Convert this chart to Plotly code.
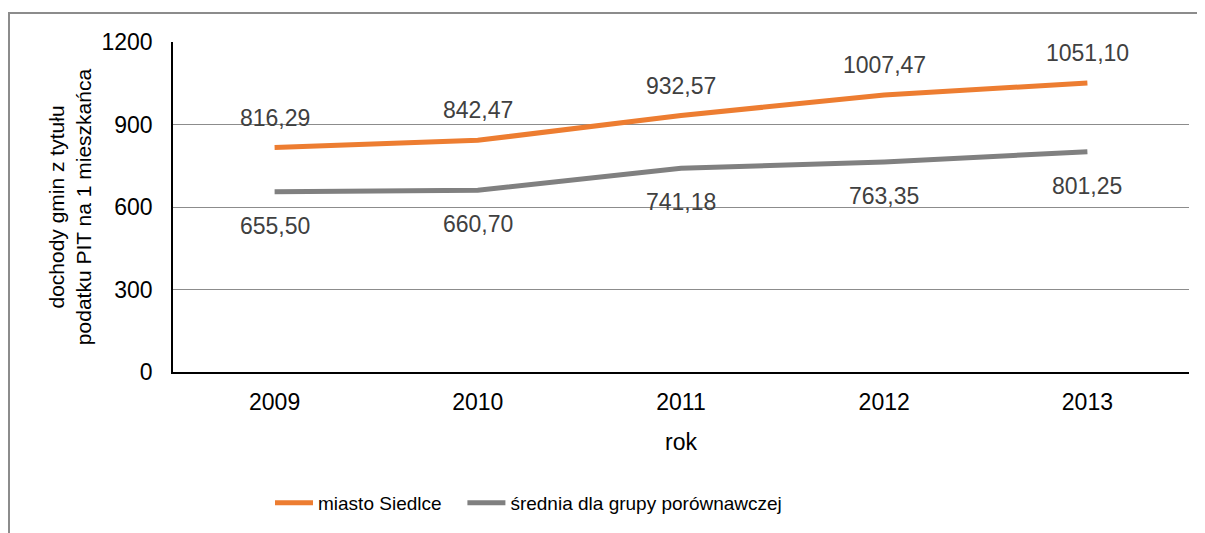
import plotly.graph_objects as go

years = ["2009", "2010", "2011", "2012", "2013"]
siedlce = [816.29, 842.47, 932.57, 1007.47, 1051.10]
grupa = [655.50, 660.70, 741.18, 763.35, 801.25]
siedlce_labels = ["816,29", "842,47", "932,57", "1007,47", "1051,10"]
grupa_labels = ["655,50", "660,70", "741,18", "763,35", "801,25"]
y_ticks = [0, 300, 600, 900, 1200]

OFF = 8  # page body margin
W, H = 1205 - OFF, 533 - OFF
L, R, T, B = 173 - OFF, 16, 42 - OFF, 533 - 373
pw = W - L - R
ph = H - T - B

def px_x(x):
    return (x - OFF - L) / pw

def px_y(y):
    return (H - B - (y - OFF)) / ph

fig = go.Figure()
fig.add_trace(go.Scatter(x=years, y=siedlce, mode="lines", name="miasto Siedlce\u00a0\u00a0\u00a0",
                         line=dict(color="#ED7D31", width=5)))
fig.add_trace(go.Scatter(x=years, y=grupa, mode="lines", name="średnia dla grupy porównawczej",
                         line=dict(color="#808080", width=5)))

# category axis annotations use category index
for i, (yv, t) in enumerate(zip(siedlce, siedlce_labels)):
    fig.add_annotation(x=i, y=yv, text=t, showarrow=False, yshift=30,
                       font=dict(size=23, color="#404040"))
for i, (yv, t) in enumerate(zip(grupa, grupa_labels)):
    fig.add_annotation(x=i, y=yv, text=t, showarrow=False, yshift=-34,
                       font=dict(size=23, color="#404040"))

fig.add_shape(type="rect", xref="paper", yref="paper",
              x0=px_x(9), x1=px_x(1220), y0=px_y(13), y1=px_y(550),
              line=dict(color="#8c8c8c", width=2), fillcolor="rgba(0,0,0,0)", layer="below")

fig.update_layout(
    width=W, height=H,
    margin=dict(l=L, r=R, t=T, b=B),
    paper_bgcolor="white", plot_bgcolor="white",
    font=dict(family="Liberation Sans, Arial, sans-serif", color="black"),
    showlegend=True,
    legend=dict(orientation="h", x=px_x(270), xanchor="left", y=px_y(503), yanchor="middle",
                font=dict(size=19, color="black"), itemwidth=38),
    xaxis=dict(type="category", range=[-0.5, 4.5], showgrid=False,
               showline=True, linecolor="black", linewidth=1.5,
               ticks="", tickfont=dict(size=23), ticklabelstandoff=9,
               title=dict(text="rok", font=dict(size=23), standoff=20)),
    yaxis=dict(range=[0, 1200], tickvals=y_ticks, showgrid=True, gridcolor="#8c8c8c", gridwidth=1.3,
               showline=True, linecolor="black", linewidth=1.5, zeroline=False,
               ticks="", tickfont=dict(size=23), ticklabelstandoff=14,
               title=dict(text="dochody gmin z tytułu<br>podatku PIT na 1 mieszkańca",
                          font=dict(size=21), standoff=4)),
)

fig.write_html("out.html")
